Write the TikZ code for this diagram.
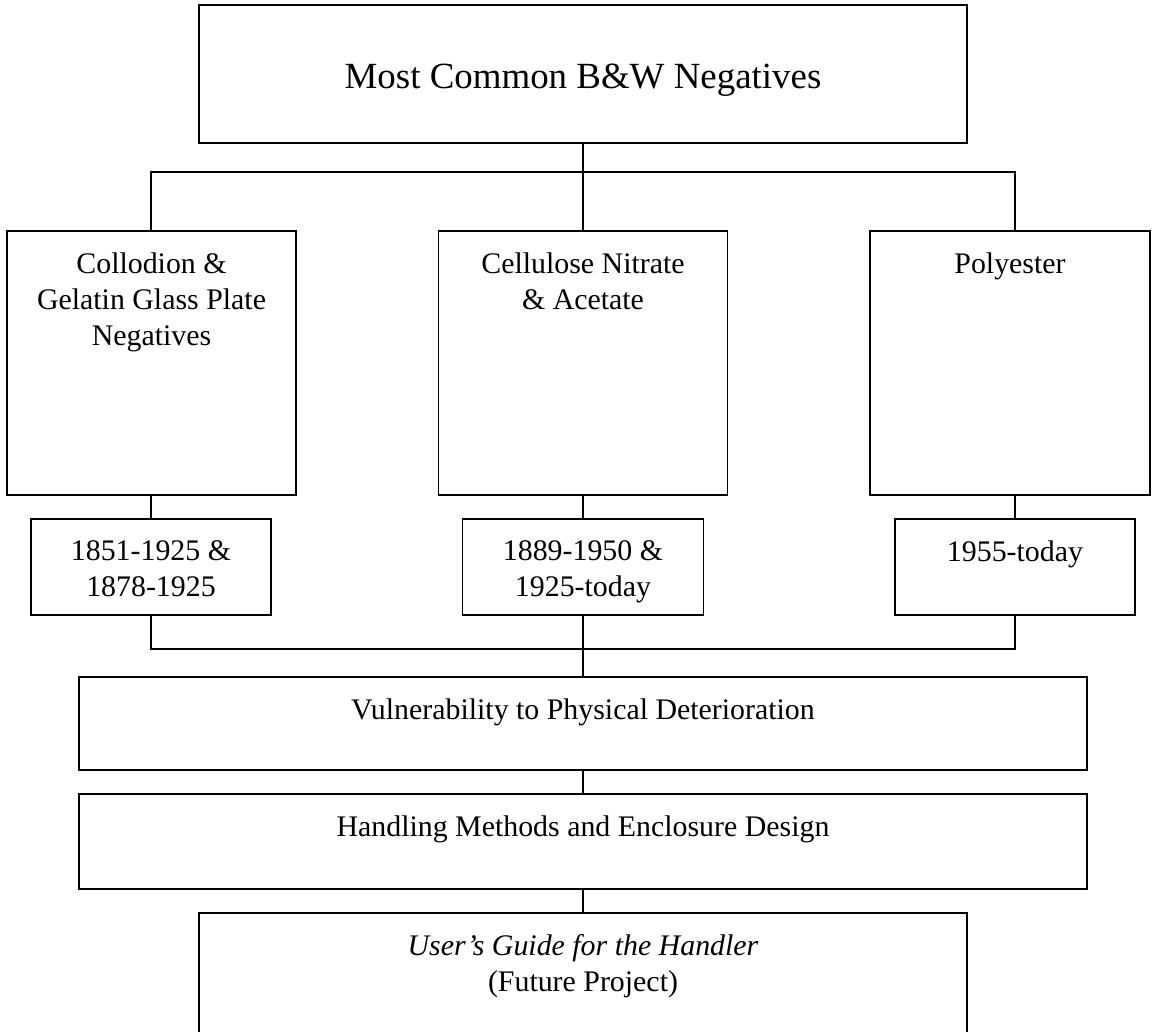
\documentclass[tikz,border=0pt]{standalone}
\usepackage{fontspec}
\setmainfont{Liberation Serif}
\usepackage{tikz}

\tikzset{
  box/.style={draw, line width=1.1pt, inner sep=0pt},
  link/.style={line width=0.85pt},
  inlabel/.style={anchor=north, yshift=-0.44cm, align=center, inner sep=0pt,
    font=\fontsize{17}{20.5}\selectfont},
  titlelabel/.style={anchor=north, yshift=-1.2cm, align=center, inner sep=0pt,
    font=\fontsize{21}{25}\selectfont},
}

\begin{document}
\begin{tikzpicture}
  \useasboundingbox (0,0) rectangle (23.08,-20.64);

  % title box
  \node[box, minimum width=15.36cm, minimum height=2.76cm,
    label={[titlelabel]north:{Most Common B\&W Negatives}}] (top) at (11.66,-1.48) {};

  % the three kinds
  \node[box, minimum width=5.78cm, minimum height=5.28cm,
    label={[inlabel]north:{Collodion \&\\Gelatin Glass Plate\\Negatives}}] (glass) at (3.03,-7.26) {};
  \node[box, minimum width=5.78cm, minimum height=5.28cm,
    label={[inlabel]north:{Cellulose Nitrate\\\& Acetate}}] (nitrate) at (11.66,-7.26) {};
  \node[box, minimum width=5.6cm, minimum height=5.28cm,
    label={[inlabel]north:{Polyester}}] (poly) at (20.2,-7.26) {};

  % dates
  \node[box, minimum width=4.8cm, minimum height=1.92cm,
    label={[inlabel]north:{1851-1925 \&\\1878-1925}}] (glassdate) at (3.02,-11.34) {};
  \node[box, minimum width=4.82cm, minimum height=1.92cm,
    label={[inlabel]north:{1889-1950 \&\\1925-today}}] (nitratedate) at (11.66,-11.34) {};
  \node[box, minimum width=4.8cm, minimum height=1.92cm,
    label={[inlabel]north:{1955-today}}] (polydate) at (20.3,-11.34) {};

  % lower chain
  \node[box, minimum width=20.16cm, minimum height=1.86cm,
    label={[inlabel]north:{Vulnerability to Physical Deterioration}}] (vuln) at (11.66,-14.47) {};
  \node[box, minimum width=20.16cm, minimum height=1.9cm,
    label={[inlabel]north:{Handling Methods and Enclosure Design}}] (handling) at (11.66,-16.83) {};
  \node[box, minimum width=15.36cm, minimum height=3cm,
    label={[inlabel]north:{\textit{User’s Guide for the Handler}\\(Future Project)}}] (guide) at (11.66,-19.76) {};

  \coordinate (bus1) at (0,-3.44);
  \coordinate (bus2) at (0,-12.98);

  % connectors
  \draw[link] (top.south) -- (top.south |- bus1);
  \draw[link] (glassdate.north |- glass.north) |- (polydate.north |- bus1) -- (polydate.north |- poly.north);
  \draw[link] (nitrate.north) -- (nitrate.north |- bus1);

  \draw[link] (glassdate.north |- glass.south) -- (glassdate.north);
  \draw[link] (nitrate.south) -- (nitratedate.north);
  \draw[link] (polydate.north |- poly.south) -- (polydate.north);

  \draw[link] (glassdate.south) |- (polydate.south |- bus2) -- (polydate.south);
  \draw[link] (nitratedate.south) -- (vuln.north);
  \draw[link] (vuln.south) -- (handling.north);
  \draw[link] (handling.south) -- (guide.north);
\end{tikzpicture}
\end{document}
